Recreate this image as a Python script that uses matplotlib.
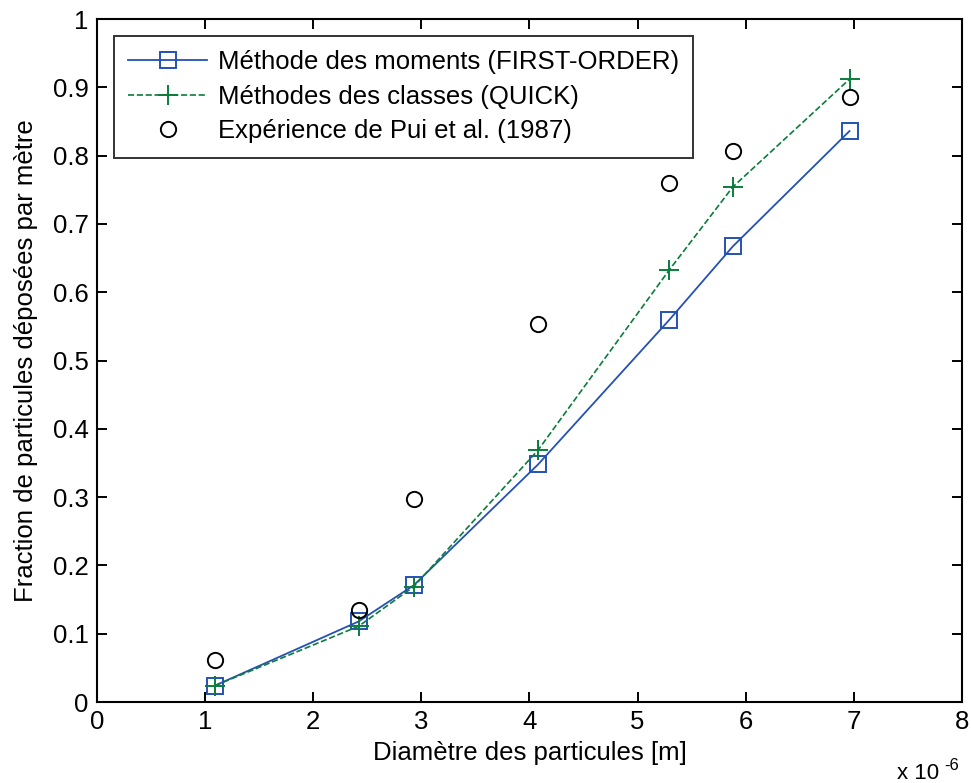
## deposition fraction per metre vs particle diameter
## two model curves (moments / classes) against Pui et al. (1987) data

import numpy as np
import matplotlib.pyplot as plt

plt.rc('font', family=['Liberation Sans', 'DejaVu Sans'])
plt.rc('axes', linewidth=1.5)
plt.rc('xtick', labelsize=18.5, direction='in', top=True)
plt.rc('ytick', labelsize=18.5, direction='in', right=True)
plt.rc('xtick.major', size=7, width=1.4, pad=6)
plt.rc('ytick.major', size=7, width=1.4, pad=6)

# diameters in units of 1e-6 m
diam = [1.09, 2.42, 2.93, 4.08, 5.29, 5.88, 6.96]
frac_moments = [0.024, 0.118, 0.171, 0.348, 0.559, 0.667, 0.836]
frac_classes = [0.024, 0.111, 0.169, 0.369, 0.632, 0.754, 0.912]
frac_pui = [0.062, 0.135, 0.298, 0.553, 0.760, 0.807, 0.886]

labels = ['Méthode des moments (FIRST-ORDER)',
          'Méthodes des classes (QUICK)',
          'Expérience de Pui et al. (1987)']

fig = plt.figure(figsize=(9.71, 7.83), dpi=100)
ax = fig.add_axes([0.0999, 0.1034, 0.8908, 0.8723])

ax.plot(diam, frac_moments, ls='-', lw=1.3, color='#2451b3', marker='s',
        ms=12, mfc='none', mec='#2451b3', mew=1.4, label=labels[0])
ax.plot(diam, frac_classes, ls='--', lw=1.2, color='#0a7d3c', marker='+',
        ms=15, mew=1.4, label=labels[1])
ax.plot(diam, frac_pui, ls='', color='black', marker='o', ms=11,
        mfc='none', mew=1.4, label=labels[2])

ax.set_xlim(0, 8)
ax.set_ylim(0, 1)
ax.set_xticks(np.arange(0, 9, 1))
ax.set_yticks(np.arange(0, 1.01, 0.1))
ax.set_yticklabels(['0'] + ['%g' % v for v in np.arange(0.1, 0.95, 0.1)] + ['1'])

ax.set_xlabel('Diamètre des particules [m]', fontsize=18.5, labelpad=5)
ax.set_ylabel('Fraction de particules déposées par mètre', fontsize=18.5, labelpad=11)

# x axis multiplier, written out by hand
fig.text(0.924, 0.005, 'x 10', fontsize=16, ha='left', va='baseline')
fig.text(0.972, 0.016, '-6', fontsize=12, ha='left', va='baseline')

leg = ax.legend(loc='upper left', fontsize=18.5, frameon=True, fancybox=False,
                edgecolor='black', handlelength=3.1, borderaxespad=0.65,
                labelspacing=0.42, handletextpad=0.4, borderpad=0.55)
leg.get_frame().set_linewidth(1.4)

plt.savefig('out.png', dpi=100)
